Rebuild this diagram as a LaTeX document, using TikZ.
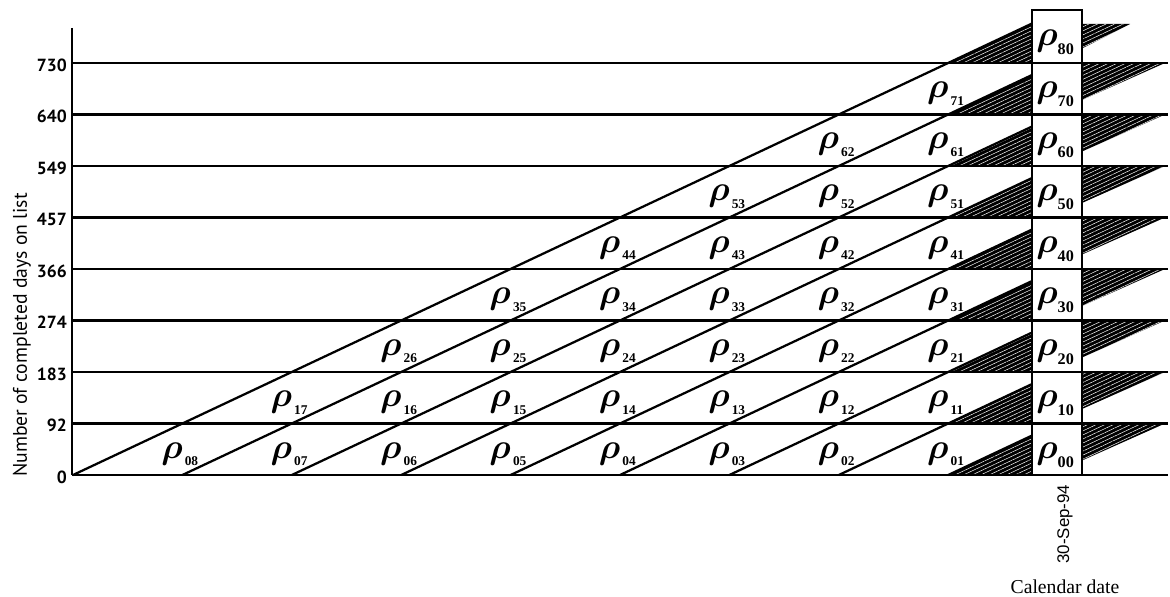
\documentclass[tikz,border=0pt]{standalone}
\usepackage{fontspec}
\usepackage{bm}
\setmainfont{Liberation Serif}
\setsansfont{PT Sans}
\newfontfamily\datefont{Liberation Sans}
\usepackage{tikz}
\usetikzlibrary{calc, positioning, patterns.meta}

\tikzset{
  rowline/.style={line width=1.9pt},
  diagline/.style={line width=1.6pt},
  boxline/.style={line width=1.4pt},
  hatch/.style={pattern={Lines[angle=25.2, distance=2.6pt, line width=0.35pt]}, pattern color=white},
  ticklab/.style={font=\sffamily\bfseries\fontsize{12.5}{12.5}\selectfont, anchor=east, inner sep=0pt},
  rholab/.style={anchor=base west, inner sep=0pt},
}
% rho with a lowered subscript: rho size, subscript size, gap, drop, digits
\newcommand{\rhosub}[5]{{\fontsize{#1}{#1}\selectfont$\bm{\rho}$}\hspace{#3}\raisebox{-#4}{\fontsize{#2}{#2}\selectfont\bfseries #5}}

\begin{document}
\begin{tikzpicture}[x=0.025cm, y=-0.025cm]
  \useasboundingbox (0,0) rectangle (1170,597);

  % shaded wedges beside the column of boxes
  \foreach \i in {0,...,8} {
    \pgfmathsetmacro\yb{475-51.5*\i}
    \fill[black, postaction={hatch}] (948,\yb) -- (1032,\yb) -- (1032,\yb-39.5) -- cycle;
  }
  \foreach \i in {1,...,8} {
    \pgfmathsetmacro\yt{475-51.5*\i}
    \fill[black, postaction={hatch}] (1082,\yt) -- (1165,\yt) -- (1082,\yt+37) -- cycle;
  }
  \fill[black, postaction={hatch}] (1082,24) -- (1130,24) -- (1082,48.5) -- cycle;

  % rows and their values
  \foreach \i/\v in {0/0,1/92,2/183,3/274,4/366,5/457,6/549,7/640,8/730} {
    \pgfmathsetmacro\yb{475-51.5*\i}
    \draw[rowline] (72,\yb) -- (1168,\yb);
    \node[ticklab] (tick\i) at (67,\yb+2) {\v};
  }

  % diagonals
  \foreach \k in {0,...,8} {
    \pgfmathsetmacro\xs{73+109.4*\k}
    \pgfmathsetmacro\ye{475-(959-109.4*\k)*0.4708}
    \draw[diagline] (\xs,475) -- (1032,\ye);
  }

  % column of boxes and axis
  \draw[boxline] (1032,475) -- (1032,10) -- (1082,10) -- (1082,475);
  \draw[line width=1.3pt] (72,28) -- (72,475);

  % labels in the cells
  \foreach \i in {0,...,7} {
    \pgfmathtruncatemacro\jmax{8-\i}
    \foreach \j in {1,...,\jmax} {
      \pgfmathsetmacro\yb{475-51.5*\i}
      \node[rholab] (r-\i-\j) at (161+109.4*8-109.4*\j,\yb-17) {\rhosub{26}{9.5}{1.5pt}{5.5pt}{\i\j}};
    }
  }
  \foreach \i in {0,...,8} {
    \pgfmathsetmacro\yb{475-51.5*\i}
    \node[rholab] (r-\i-0) at (1036,\yb-17) {\rhosub{29}{11.5}{0pt}{6.4pt}{\i0}};
  }

  \node[rotate=90, font=\sffamily\fontsize{14}{14}\selectfont] (ytitle) at (22,335) {Number of completed days on list};
  \node[rotate=90, font=\datefont\fontsize{12}{12}\selectfont] (date) at (1065,524) {30-Sep-94};
  \node[below=0.15cm of date.west, font=\fontsize{14}{14}\selectfont] (caldate) {Calendar date};
\end{tikzpicture}
\end{document}
